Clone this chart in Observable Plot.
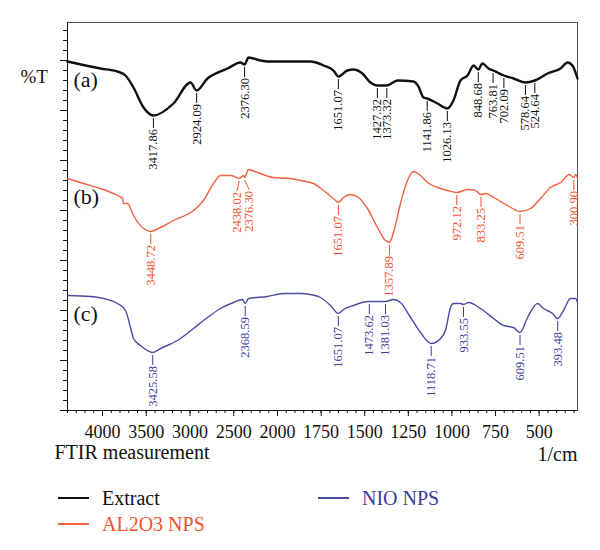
<!DOCTYPE html>
<html>
<head>
<meta charset="utf-8">
<script src="https://cdn.jsdelivr.net/npm/d3@7"></script>
<script src="https://cdn.jsdelivr.net/npm/@observablehq/plot@0.6"></script>
<style>
  html, body { margin: 0; padding: 0; background: #fff; }
  #chart { width: 600px; }
  .legend { position: relative; width: 600px; height: 75px; font-family: "Liberation Serif", serif; font-size: 20px; }
  .legend .item { position: absolute; display: flex; align-items: center; height: 24px; white-space: nowrap; }
  .legend .swatch { width: 31px; height: 0; border-top: 2px solid; margin-right: 13px; }
</style>
</head>
<body>
<div id="chart"></div>
<div class="legend" id="legend"></div>
<script>
// FTIR spectra: wavenumber (1/cm) and transmittance (%T, stacked, arbitrary offset)
const wnExtract = [4400, 4023, 3829, 3737, 3646, 3531, 3417.86, 3189, 2994, 2924.09, 2800, 2571, 2423, 2376.30, 2331, 2194, 2114, 1868, 1811, 1736, 1679, 1651.07, 1599, 1564, 1513, 1467, 1427.32, 1373.32, 1312, 1220, 1192, 1163, 1141.86, 1083, 1026.13, 991, 951, 911, 876, 848.68, 825, 790, 763.81, 739, 702.09, 647, 578.64, 524.64, 452, 377, 337, 309, 280];
const tExtract = [34.9, 34.2, 33.9, 33.5, 32.3, 30.3, 29.5, 30.7, 32.8, 32.0, 33.2, 34.2, 34.8, 34.6, 35.3, 35.0, 34.9, 34.9, 34.9, 34.5, 34.0, 33.4, 34.0, 34.1, 33.7, 32.8, 32.5, 32.5, 33.0, 32.9, 32.4, 31.3, 31.2, 30.7, 30.2, 31.0, 33.0, 33.5, 34.5, 34.1, 34.7, 34.2, 34.0, 33.8, 33.5, 33.2, 32.8, 33.0, 33.7, 34.2, 34.8, 34.5, 33.2];

const wnAl2o3 = [4400, 4217, 4023, 3829, 3771, 3760, 3714, 3646, 3531, 3448.72, 3337, 3189, 2960, 2846, 2731, 2651, 2537, 2469, 2438.02, 2389, 2376.30, 2331, 2229, 2046, 1925, 1868, 1794, 1736, 1679, 1651.07, 1622, 1581, 1536, 1484, 1427, 1381, 1357.89, 1335, 1295, 1255, 1220, 1180, 1140, 1083, 1025, 972.12, 911, 865, 833.25, 807, 761, 681, 609.51, 549, 492, 435, 377, 326, 300.90, 291, 280];
const tAl2o3 = [23.2, 22.7, 22.2, 21.5, 21.2, 20.7, 20.7, 19.5, 18.2, 17.9, 18.3, 19.0, 20.0, 21.0, 22.7, 23.5, 23.5, 23.3, 23.2, 23.5, 23.3, 24.1, 23.8, 23.3, 23.2, 23.0, 22.7, 22.0, 21.2, 20.8, 21.3, 21.6, 21.3, 20.2, 18.3, 17.0, 16.8, 17.8, 20.7, 23.0, 23.9, 23.5, 22.8, 22.3, 22.0, 21.8, 22.1, 22.0, 21.6, 21.7, 21.3, 20.5, 19.9, 20.2, 21.2, 22.3, 22.8, 23.6, 23.3, 23.6, 23.3];

const wnNio = [4400, 4137, 3989, 3829, 3737, 3680, 3646, 3566, 3486, 3425.58, 3337, 3143, 2960, 2800, 2651, 2503, 2400, 2368.59, 2331, 2114, 1966, 1908, 1868, 1811, 1753, 1696, 1651.07, 1622, 1564, 1484, 1473.62, 1381.03, 1335, 1295, 1237, 1180, 1118.71, 1065, 1037, 1008, 991, 951, 933.55, 905, 836, 761, 704, 647, 609.51, 566, 509, 475, 423, 393.48, 360, 320, 291, 280];
const tNio = [11.5, 11.4, 11.2, 10.7, 10.0, 8.3, 7.2, 6.5, 6.0, 5.8, 6.2, 7.0, 8.2, 9.3, 10.2, 10.8, 11.1, 10.7, 11.2, 11.4, 11.7, 11.7, 11.7, 11.6, 11.3, 10.5, 9.7, 10.1, 10.5, 10.9, 10.9, 10.9, 11.1, 10.8, 9.3, 7.8, 6.7, 7.2, 8.0, 10.3, 10.7, 10.7, 10.6, 10.8, 10.2, 9.2, 8.5, 8.3, 7.8, 9.3, 10.7, 10.2, 9.7, 9.2, 10.0, 11.2, 11.2, 10.8];

// Labelled absorption bands
const peaksExtract = [3417.86, 2924.09, 2376.30, 1651.07, 1427.32, 1373.32, 1141.86, 1026.13, 848.68, 763.81, 702.09, 578.64, 524.64];
const peaksAl2o3 = [3448.72, 2438.02, 2376.30, 1651.07, 1357.89, 972.12, 833.25, 609.51, 300.90];
const peaksNio = [3425.58, 2368.59, 1651.07, 1473.62, 1381.03, 1118.71, 933.55, 609.51, 393.48];

const seriesNames = ["Extract", "AL2O3 NPS", "NIO NPS"];
const panelTags = ["(a)", "(b)", "(c)"];

// Axis ticks (1/cm)
const majorTicks = [4000, 3500, 3000, 2500, 2000, 1750, 1500, 1250, 1000, 750, 500];
const minorTicks = [...d3.range(4400, 2000, -100), ...d3.range(2000, 299, -50)];

const lineColors = ["#111111", "#f2603f", "#4b4ba5"];
const textColors = ["#111111", "#f2522c", "#3d3d9f"];
const lineWidths = [2.4, 1.4, 1.4];

const spectra = [
  {wn: wnExtract, t: tExtract, peaks: peaksExtract},
  {wn: wnAl2o3, t: tAl2o3, peaks: peaksAl2o3},
  {wn: wnNio, t: tNio, peaks: peaksNio}
];

// Horizontal shift (1/cm) for labels that would otherwise collide
const labelShift = {"1:2438.02": 25, "1:2376.30": -55};

function valueAt(w, ws, ts) {
  for (let i = 0; i < ws.length - 1; i++) {
    if (ws[i] >= w && w >= ws[i + 1]) {
      const f = (ws[i] - w) / (ws[i] - ws[i + 1]);
      return ts[i] + f * (ts[i + 1] - ts[i]);
    }
  }
  return ts[ts.length - 1];
}

const fmt = d3.format(".2f");
const marks = [];

spectra.forEach((s, k) => {
  const rows = s.wn.map((w, i) => ({wn: w, t: s.t[i]}));
  marks.push(Plot.line(rows, {x: "wn", y: "t", stroke: lineColors[k], strokeWidth: lineWidths[k], curve: "monotone-x"}));
  const peaks = s.peaks.map(w => {
    const t = valueAt(w, s.wn, s.t);
    return {wn: w, t, lx: w + (labelShift[k + ":" + fmt(w)] || 0), label: fmt(w)};
  });
  marks.push(Plot.link(peaks, {x1: "wn", y1: d => d.t - 0.25, x2: "lx", y2: d => d.t - 1.25, stroke: textColors[k], strokeWidth: 1}));
  marks.push(Plot.text(peaks, {x: "lx", y: d => d.t - 1.35, text: "label", rotate: -90, textAnchor: "end", fontSize: 12.5, fill: textColors[k]}));
  marks.push(Plot.text([panelTags[k]], {frameAnchor: "left", y: [s.t[0] - 1.8], dx: 6, textAnchor: "start", fontSize: 22, fill: "#111"}));
});

const chart = Plot.plot({
  width: 600,
  height: 475,
  marginTop: 22,
  marginBottom: 65,
  marginLeft: 67,
  marginRight: 23,
  style: {fontFamily: "Liberation Serif, serif", color: "#111", background: "#fff"},
  x: {type: "linear", domain: [4400, 2000, 280], range: [67, 277, 577]},
  y: {domain: [0, 38.8]},
  marks: [
    Plot.frame({stroke: "#555"}),
    Plot.axisY(d3.range(0, 39, 1), {tickSize: 4, tickFormat: () => "", label: null}),
    Plot.axisY(d3.range(0, 39, 5), {tickSize: 7, tickFormat: () => "", label: null}),
    Plot.axisX(minorTicks, {tickSize: 3, tickFormat: () => "", label: null}),
    Plot.axisX(majorTicks, {tickSize: 6, tickPadding: 9, fontSize: 18, tickFormat: d => String(d), label: null}),
    Plot.ruleX([4400], {stroke: "#111"}),
    Plot.ruleY([0], {stroke: "#111"}),
    ...marks,
    Plot.text(["%T"], {frameAnchor: "top-left", dx: -47, dy: 47, textAnchor: "start", fontSize: 19, fill: "#111"}),
    Plot.text(["FTIR measurement"], {frameAnchor: "bottom-left", dx: -13, dy: 48, textAnchor: "start", fontSize: 20, fill: "#111"}),
    Plot.text(["1/cm"], {frameAnchor: "bottom-right", dy: 50, textAnchor: "end", fontSize: 20, fill: "#111"})
  ]
});
document.getElementById("chart").appendChild(chart);

// Legend below the chart
const legendPos = [{left: 58, top: 11}, {left: 58, top: 37}, {left: 318, top: 11}];
const legend = document.getElementById("legend");
seriesNames.forEach((name, k) => {
  const item = document.createElement("div");
  item.className = "item";
  item.style.left = legendPos[k].left + "px";
  item.style.top = legendPos[k].top + "px";
  item.style.color = textColors[k];
  const sw = document.createElement("span");
  sw.className = "swatch";
  sw.style.borderColor = lineColors[k];
  const label = document.createElement("span");
  label.textContent = name;
  item.appendChild(sw);
  item.appendChild(label);
  legend.appendChild(item);
});
</script>
</body>
</html>
